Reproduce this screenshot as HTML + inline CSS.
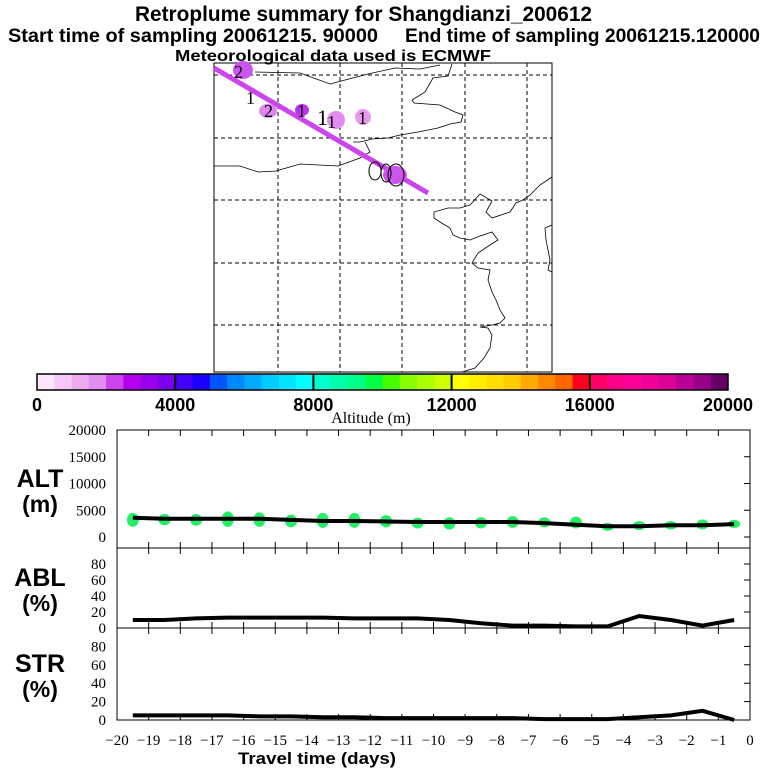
<!DOCTYPE html>
<html><head><meta charset="utf-8"><style>
body{margin:0;background:#fff;}
svg{display:block;font-family:"Liberation Sans",sans-serif;}
.t{font-weight:bold;fill:#000}
.tk{font-family:"Liberation Serif",serif;font-size:15px;fill:#000}
</style></head><body>
<svg id="chart" width="768" height="768" viewBox="0 0 768 768">
<text class="t" x="135" y="21" font-size="21" textLength="457" lengthAdjust="spacingAndGlyphs">Retroplume summary for Shangdianzi_200612</text>
<text class="t" x="8" y="42" font-size="19" textLength="370" lengthAdjust="spacingAndGlyphs">Start time of sampling 20061215. 90000</text>
<text class="t" x="405" y="42" font-size="19" textLength="355" lengthAdjust="spacingAndGlyphs">End time of sampling 20061215.120000</text>
<text class="t" x="175" y="61" font-size="16" textLength="316" lengthAdjust="spacingAndGlyphs">Meteorological data used is ECMWF</text>

<g id="map">
<rect x="214" y="63" width="338" height="309" fill="none" stroke="#000"/>
<g stroke="#000" stroke-dasharray="4,3" stroke-width="1">
<line x1="278" y1="63" x2="278" y2="372"/><line x1="340" y1="63" x2="340" y2="372"/><line x1="402" y1="63" x2="402" y2="372"/><line x1="465" y1="63" x2="465" y2="372"/><line x1="527" y1="63" x2="527" y2="372"/>
<line x1="214" y1="75" x2="552" y2="75"/><line x1="214" y1="138" x2="552" y2="138"/><line x1="214" y1="200" x2="552" y2="200"/><line x1="214" y1="263" x2="552" y2="263"/><line x1="214" y1="325" x2="552" y2="325"/>
</g>
<g fill="none" stroke="#000" stroke-width="0.8">
<polyline points="255,72 300,73 330,84 345,80 368,74 395,68 420,69 440,65"/>
<polyline points="452,64 448,76 433,78 425,92 412,100 414,103 440,105 455,112 463,115 461,122 450,124 438,128 418,132 400,135 388,138 372,139 360,142 353,142"/>
<polyline points="214,166 240,166 258,172 276,171 300,164 338,166 360,158 370,152 365,142"/>
<polyline points="552,177 540,185 530,195 523,200 516,203 510,212 492,218 486,212 492,201 480,194 470,205 460,208 448,208 434,212 434,218 440,222 450,228 453,235 460,238 470,240 480,236 492,232 498,240 490,245 478,253 472,263 478,268 490,270 488,280 492,292 496,300 500,310 505,318 500,323 492,325 480,327 488,328 492,335 490,348 484,358 475,368 462,372"/>
<polyline points="552,225 545,228 546,240 550,260 548,270 552,272"/>
</g>
<line x1="214" y1="68" x2="428" y2="193" stroke="#cc44ee" stroke-width="5"/>
<g>
<ellipse cx="243" cy="70" rx="10" ry="9" fill="#cc55ee"/>
<ellipse cx="268" cy="111" rx="9" ry="7" fill="#dd88ee"/>
<ellipse cx="302" cy="110" rx="7" ry="6" fill="#bb33ee"/>
<ellipse cx="336" cy="120" rx="9" ry="9" fill="#e08cf0"/>
<ellipse cx="363" cy="117" rx="8" ry="8" fill="#e99aef"/>
<ellipse cx="395" cy="175" rx="12" ry="9" fill="#cc55ee"/>
<ellipse cx="375" cy="171" rx="6" ry="9" fill="none" stroke="#000"/>
<ellipse cx="396" cy="175" rx="8" ry="11" fill="none" stroke="#000"/>
<ellipse cx="386" cy="173" rx="5" ry="9" fill="none" stroke="#000"/>
<g font-family="Liberation Serif,serif" font-size="18" fill="#000">
<text x="234" y="78">2</text><text x="246" y="104">1</text><text x="264" y="117">2</text><text x="297" y="117">1</text><text x="317" y="125" font-size="22">1</text><text x="327" y="128">1</text><text x="358" y="124">1</text>
</g></g>
</g>

<g id="colorbar"></g>
<text x="371" y="423" font-family="Liberation Serif,serif" font-size="16" text-anchor="middle">Altitude (m)</text>

<g id="panels"></g>
<text class="t" x="238" y="764" font-size="17" textLength="158" lengthAdjust="spacingAndGlyphs">Travel time (days)</text>
</svg>
<script>
const NS="http://www.w3.org/2000/svg";
const colorStops=["#fbe6fb","#f6c8f6","#eeaaf0","#e08cf0","#cc44ee","#b300ee","#9900ee","#7a00ee","#4400ff","#1a00ff","#0055ff","#0088ff","#00aaff","#00ccff","#00e5ff","#00ffff","#00ffcc","#00ffaa","#00ff88","#00ff44","#44ff00","#88ff00","#aaff00","#ccff00","#ffff00","#ffee00","#ffdd00","#ffcc00","#ffaa00","#ff8800","#ff6600","#ff0022","#ff0066","#ff0088","#ff0099","#ee0099","#dd0099","#bb0099","#990088","#660066"];
const colorbarTicks=[0,4000,8000,12000,16000,20000];
const days=[-19.5,-18.5,-17.5,-16.5,-15.5,-14.5,-13.5,-12.5,-11.5,-10.5,-9.5,-8.5,-7.5,-6.5,-5.5,-4.5,-3.5,-2.5,-1.5,-0.5];
const altMean=[3600,3400,3400,3400,3400,3200,3000,3000,2900,2800,2800,2800,2800,2600,2300,2000,2000,2200,2200,2400];
const altLow=[1900,2200,2100,1900,1900,1800,1700,1700,1800,1600,1400,1600,1700,1800,1600,1400,1300,1400,1400,1800];
const altHigh=[4500,4300,4300,4800,4600,4200,4500,4500,4100,3600,3700,3700,3900,3700,3800,2400,3000,3000,3300,3100];
const ablValues=[10,10,12,13,13,13,13,12,12,12,10,6,3,3,2,2,15,10,3,10];
const strValues=[5,5,5,5,4,4,3,3,2,2,2,2,2,1,1,1,3,5,10,0];
const xTicks=[-20,-19,-18,-17,-16,-15,-14,-13,-12,-11,-10,-9,-8,-7,-6,-5,-4,-3,-2,-1,0];
const altTicks=[0,5000,10000,15000,20000];
const pctTicks=[0,20,40,60,80];

function mk(tag,attrs,parent){const e=document.createElementNS(NS,tag);for(const k in attrs)e.setAttribute(k,attrs[k]);parent.appendChild(e);return e;}
const cb=document.getElementById('colorbar');
const cbX=v=>37+v/20000*691;
colorStops.forEach((c,i)=>{const r=mk('rect',{x:cbX(i*500),y:374,width:cbX(500)-cbX(0)+0.5,height:16,fill:c},cb);

});
mk('rect',{x:37,y:374,width:691,height:16,fill:'none',stroke:'#000','stroke-width':1.5},cb);
colorbarTicks.forEach(v=>{if(v>0&&v<20000)mk('line',{x1:cbX(v),y1:374,x2:cbX(v),y2:390,stroke:'#000','stroke-width':2},cb);
const t=mk('text',{x:cbX(v),y:411,'text-anchor':'middle','font-size':18,'font-weight':'bold'},cb);t.textContent=v;

});

const P=document.getElementById('panels');
const X=d=>117+(d+20)/20*633;
const L=117,R=750;
function panel(name,top,bottom,yOf,ticks,label1,label2,values,extra){
  const g=mk('g',{},P);
  
  
  mk('rect',{x:L,y:top,width:R-L,height:bottom-top,fill:'none',stroke:'#000'},g);
  xTicks.forEach(d=>{mk('line',{x1:X(d),y1:top,x2:X(d),y2:top+6,stroke:'#000'},g);mk('line',{x1:X(d),y1:bottom,x2:X(d),y2:bottom-6,stroke:'#000'},g);});
  ticks.forEach(v=>{const y=yOf(v);mk('line',{x1:R,y1:y,x2:R-6,y2:y,stroke:'#000'},g);
    const t=mk('text',{x:106,y:y+5,'text-anchor':'end',class:'tk'},g);t.textContent=v;
    
    });
  const a=mk('text',{x:40,y:top+(bottom-top)/2-2,'text-anchor':'middle',class:'t','font-size':25},g);a.textContent=label1;
  
  
  const b=mk('text',{x:40,y:top+(bottom-top)/2+23,'text-anchor':'middle',class:'t','font-size':23},g);b.textContent=label2;
  
  
  if(extra)extra(g);
  const pl=mk('polyline',{points:days.map((d,i)=>X(d)+','+yOf(values[i])).join(' '),fill:'none',stroke:'#000','stroke-width':4},g);
  
  
}
const altY=v=>537-v/20000*107;
panel('alt',430,548,altY,altTicks,'ALT','(m)',altMean,g=>{
  days.forEach((d,i)=>{const y1=altY(altHigh[i]),y2=altY(altLow[i]);
    const e=mk('ellipse',{cx:X(d),cy:(y1+y2)/2,rx:6,ry:Math.max(4,(y2-y1)/2),fill:'#22ee66'},g);
    
    });
});
const ablY=v=>628-v/100*80;
panel('abl',548,628,ablY,pctTicks,'ABL','(%)',ablValues);
const strY=v=>720-v/100*92;
panel('str',628,720,strY,pctTicks,'STR','(%)',strValues);
const xg=mk('g',{},P);


xTicks.forEach(d=>{const t=mk('text',{x:X(d),y:745,'text-anchor':'middle',class:'tk'},xg);t.textContent=(d<0?'\u2212'+(-d):d);

});
</script>
</body></html>
